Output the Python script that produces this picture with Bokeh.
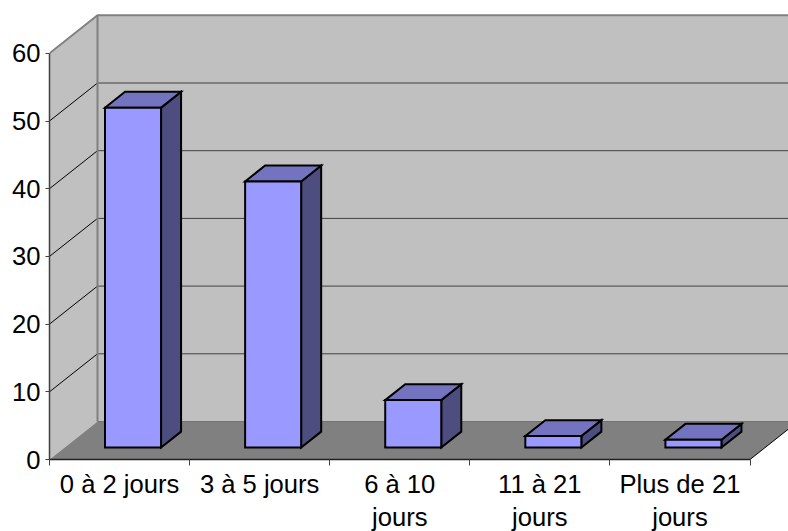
from bokeh.plotting import figure
from bokeh.models import FixedTicker, Range1d
from bokeh.embed import file_html
from bokeh.resources import INLINE

categories = ["0 à 2 jours", "3 à 5 jours", "6 à 10\njours", "11 à 21\njours", "Plus de 21\njours"]
values = [50.2, 39.3, 7.0, 1.7, 1.15]
y_ticks = [0, 10, 20, 30, 40, 50, 60]

FONT = "Liberation Sans"
DX, DY = 48 / 140.1, 38 / 6.77      # full depth of the chart box, in data units
F0, F1 = 0.316, 0.733               # bar front / back, as fractions of the depth
GAP, BAR_W = 0.288, 0.40
n = len(categories)
ymax = y_ticks[-1]

p = figure(width=788, height=531, output_backend="svg", toolbar_location=None,
           frame_width=739, frame_height=451,
           x_range=Range1d(0, 739 / 140.1), y_range=Range1d(0, 451 / 6.77),
           min_border_left=49, min_border_bottom=72, min_border_top=8, min_border_right=0,
           outline_line_color=None, border_fill_color="white", background_fill_color="white")
p.grid.visible = False

# walls and floor
p.patch([0, DX, DX, 0], [0, DY, ymax + DY, ymax], fill_color="#C0C0C0", line_color=None)
p.patch([DX, n + DX, n + DX, DX], [DY, DY, ymax + DY, ymax + DY], fill_color="#C0C0C0", line_color=None)
p.patch([0, n, n + DX, DX], [0, 0, DY, DY], fill_color="#808080", line_color=None)

# gridlines
gv = [t for t in y_ticks if 0 < t < ymax]
p.segment([DX] * len(gv), [v + DY for v in gv], [n + DX] * len(gv), [v + DY for v in gv],
          line_color="#404040", line_width=1)
p.segment([0] * len(gv), gv, [DX] * len(gv), [v + DY for v in gv], line_color="#000000", line_width=1)

# wall outlines
p.line([0, DX, n + DX], [ymax, ymax + DY, ymax + DY], line_color="#808080", line_width=2)
p.line([DX, DX], [DY, ymax + DY], line_color="#808080", line_width=2)
p.line([DX, n + DX], [DY, DY], line_color="#737373", line_width=1)
p.line([n, n + DX], [0, DY], line_color="#000000", line_width=1)

# 3-D bars
front_x, front_y, top_x, top_y, side_x, side_y = [], [], [], [], [], []
for i, v in enumerate(values):
    x0 = i + GAP + F0 * DX
    x1 = x0 + BAR_W
    y0 = F0 * DY
    y1 = y0 + v
    ox, oy = (F1 - F0) * DX, (F1 - F0) * DY
    front_x.append([x0, x1, x1, x0]); front_y.append([y0, y0, y1, y1])
    top_x.append([x0, x1, x1 + ox, x0 + ox]); top_y.append([y1, y1, y1 + oy, y1 + oy])
    side_x.append([x1, x1 + ox, x1 + ox, x1]); side_y.append([y0, y0 + oy, y1 + oy, y1])
for xs, ys, col in [(side_x, side_y, "#4D4D80"), (top_x, top_y, "#7373BF"), (front_x, front_y, "#9999FF")]:
    p.patches(xs, ys, fill_color=col, line_color="#000000", line_width=2, line_join="miter")

# axes
ya = p.yaxis[0]
ya.ticker = FixedTicker(ticks=y_ticks)
ya.bounds = (0, ymax)
ya.axis_line_color = "#404040"
ya.axis_line_width = 1.5
ya.major_tick_line_color = "#404040"
ya.major_tick_out = 4
ya.major_tick_in = 0
ya.minor_tick_out = 0
ya.minor_tick_in = 0
ya.major_label_standoff = 5
ya.major_label_text_font = FONT
ya.major_label_text_font_size = "25.6px"
ya.major_label_text_color = "#000000"

xa = p.xaxis[0]
xa.ticker = FixedTicker(ticks=[i + 0.5 for i in range(n)], minor_ticks=list(range(n + 1)))
xa.major_label_overrides = {i + 0.5: c for i, c in enumerate(categories)}
xa.bounds = (0, n)
xa.axis_line_color = "#202020"
xa.axis_line_width = 1.5
xa.major_tick_out = 0
xa.major_tick_in = 0
xa.minor_tick_line_color = "#404040"
xa.minor_tick_out = 6
xa.minor_tick_in = 0
xa.major_label_standoff = 4
xa.major_label_text_font = FONT
xa.major_label_text_font_size = "25.6px"
xa.major_label_text_color = "#000000"
xa.major_label_text_line_height = 1.2

open("out.html", "w").write(file_html(p, INLINE))
